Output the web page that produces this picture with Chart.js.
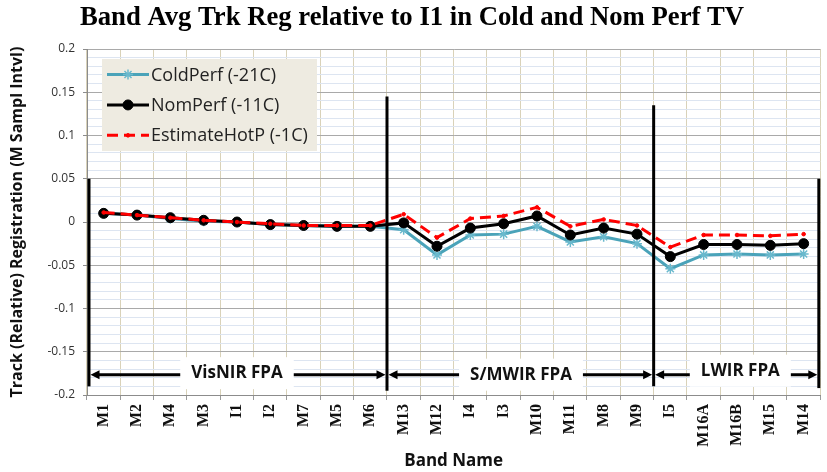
<!DOCTYPE html>
<html>
<head>
<meta charset="utf-8">
<title>Band Avg Trk Reg</title>
<script src="https://cdn.jsdelivr.net/npm/chart.js@4.4.1/dist/chart.umd.min.js"></script>
<style>
  html, body { margin: 0; padding: 0; background: #ffffff; }
  canvas { display: block; }
</style>
</head>
<body>
<canvas id="regChart" width="827" height="472"></canvas>
<script>
// band order along the track, grouped by focal plane
const bands = ['M1', 'M2', 'M4', 'M3', 'I1', 'I2', 'M7', 'M5', 'M6',
               'M13', 'M12', 'I4', 'I3', 'M10', 'M11', 'M8', 'M9',
               'I5', 'M16A', 'M16B', 'M15', 'M14'];

// registration relative to I1 (M sample interval)
const coldPerf = [0.010, 0.008, 0.004, 0.001, 0.000, -0.003, -0.004, -0.005, -0.005,
                  -0.009, -0.038, -0.015, -0.014, -0.005, -0.023, -0.017, -0.025,
                  -0.054, -0.038, -0.037, -0.038, -0.037];
const nomPerf = [0.010, 0.008, 0.005, 0.002, 0.000, -0.003, -0.004, -0.005, -0.005,
                 -0.001, -0.028, -0.007, -0.002, 0.007, -0.015, -0.007, -0.014,
                 -0.040, -0.026, -0.026, -0.027, -0.025];
const estHotP = [0.011, 0.008, 0.005, 0.002, 0.000, -0.002, -0.004, -0.004, -0.004,
                 0.009, -0.018, 0.004, 0.007, 0.017, -0.005, 0.003, -0.004,
                 -0.029, -0.015, -0.015, -0.016, -0.014];

const seriesLabels = ['ColdPerf (-21C)', 'NomPerf (-11C)', 'EstimateHotP (-1C)'];

// focal plane groups: name, first band, last band
const fpaNames = ['VisNIR FPA', 'S/MWIR FPA', 'LWIR FPA'];
const fpaFirst = ['M1', 'M13', 'I5'];
const fpaLast = ['M6', 'M9', 'M14'];

const isMajor = v => Math.abs(Math.round(v * 100)) % 5 === 0;
const fmtTick = v => String(Number(v.toFixed(2)));

// legend box drawn inside the plot, like the spreadsheet original
const boxLegend = {
    id: 'boxLegend',
    afterDatasetsDraw(chart) {
        const ctx = chart.ctx;
        const area = chart.chartArea;
        const x0 = area.left + 15, y0 = area.top + 10;
        ctx.save();
        ctx.fillStyle = '#eeebe1';
        ctx.fillRect(x0, y0, 215, 92);
        chart.data.datasets.forEach((ds, i) => {
            const cy = y0 + 15.5 + i * 30.4;
            ctx.strokeStyle = ds.borderColor;
            ctx.lineWidth = ds.borderWidth;
            ctx.setLineDash(ds.borderDash || []);
            ctx.beginPath();
            ctx.moveTo(x0 + 5, cy);
            ctx.lineTo(x0 + 47, cy);
            ctx.stroke();
            ctx.setLineDash([]);
            ctx.fillStyle = ds.pointBackgroundColor;
            ctx.strokeStyle = ds.pointBorderColor;
            ctx.lineWidth = ds.pointBorderWidth;
            Chart.helpers.drawPoint(ctx, {
                pointStyle: ds.pointStyle, rotation: 0,
                radius: ds.pointRadius, borderWidth: ds.pointBorderWidth
            }, x0 + 26, cy);
            ctx.fillStyle = '#222222';
            ctx.font = '18px "Open Sans"';
            ctx.textBaseline = 'middle';
            ctx.textAlign = 'left';
            ctx.fillText(ds.label, x0 + 49, cy + 1);
        });
        ctx.restore();
    }
};

// thick FPA dividers, double arrows and group names
const fpaMarks = {
    id: 'fpaMarks',
    afterDatasetsDraw(chart) {
        const ctx = chart.ctx;
        const xs = chart.scales.x, ys = chart.scales.y;
        const edgeX = i => xs.getPixelForValue(i);
        const bounds = [bands.indexOf(fpaFirst[0]) - 0.5]
            .concat(fpaLast.map(b => bands.indexOf(b) + 0.5));
        const tops = [0.05, 0.145, 0.135, 0.05];
        const bottoms = [-0.19, -0.195, -0.19, -0.192];
        ctx.save();
        ctx.strokeStyle = '#000000';
        ctx.fillStyle = '#000000';
        ctx.lineWidth = 3;
        bounds.forEach((b, i) => {
            const x = edgeX(b) + (i === 0 ? 2 : (i === bounds.length - 1 ? -1.5 : 0));
            ctx.beginPath();
            ctx.moveTo(x, ys.getPixelForValue(tops[i]));
            ctx.lineTo(x, ys.getPixelForValue(bottoms[i]));
            ctx.stroke();
        });
        const arrowY = ys.getPixelForValue(-0.1765);
        const head = (x, dir) => {
            ctx.beginPath();
            ctx.moveTo(x, arrowY);
            ctx.lineTo(x - dir * 9, arrowY - 4.5);
            ctx.lineTo(x - dir * 9, arrowY + 4.5);
            ctx.closePath();
            ctx.fill();
        };
        const labelCenter = [4.0, 12.52, 19.1];
        const labelDy = [-1.5, 0, -4];
        fpaNames.forEach((name, i) => {
            const xl = edgeX(bounds[i]) + (i === 0 ? 3.5 : 1.5);
            const xr = edgeX(bounds[i + 1]) - (i === fpaNames.length - 1 ? 3 : 1.5);
            ctx.lineWidth = 3;
            ctx.beginPath();
            ctx.moveTo(xl + 6, arrowY);
            ctx.lineTo(xr - 6, arrowY);
            ctx.stroke();
            head(xl, -1);
            head(xr, 1);
            ctx.font = 'bold 17px "Open Sans"';
            const tw = ctx.measureText(name).width;
            const cx = xs.getPixelForValue(labelCenter[i]);
            const cy = arrowY + labelDy[i];
            ctx.fillStyle = '#ffffff';
            ctx.fillRect(cx - tw / 2 - 11, cy - 16, tw + 22, 32);
            ctx.fillStyle = '#111111';
            ctx.textAlign = 'center';
            ctx.textBaseline = 'middle';
            ctx.fillText(name, cx, cy);
            ctx.fillStyle = '#000000';
        });
        ctx.restore();
    }
};

new Chart(document.getElementById('regChart'), {
    type: 'line',
    data: {
        labels: bands,
        datasets: [
            {
                label: seriesLabels[0],
                data: coldPerf,
                borderColor: '#4aa3b9',
                borderWidth: 3,
                pointStyle: 'star',
                pointRadius: 5,
                pointBorderWidth: 1.5,
                pointBorderColor: '#6ab9cd',
                pointBackgroundColor: '#6ab9cd',
                order: 3
            },
            {
                label: seriesLabels[1],
                data: nomPerf,
                borderColor: '#000000',
                borderWidth: 3,
                pointStyle: 'circle',
                pointRadius: 5,
                pointBorderWidth: 1,
                pointBorderColor: '#000000',
                pointBackgroundColor: '#000000',
                order: 2
            },
            {
                label: seriesLabels[2],
                data: estHotP,
                borderColor: '#ff0000',
                borderWidth: 3,
                borderDash: [11, 6],
                pointStyle: 'circle',
                pointRadius: 1.8,
                pointBorderWidth: 1,
                pointBorderColor: '#ff0000',
                pointBackgroundColor: '#ff0000',
                order: 1
            }
        ]
    },
    options: {
        responsive: false,
        animation: false,
        layout: { padding: { left: 0, right: 3, top: 0, bottom: 0 } },
        plugins: {
            legend: { display: false },
            tooltip: { enabled: false },
            title: {
                display: true,
                text: 'Band Avg Trk Reg relative to I1 in Cold and Nom Perf TV',
                font: { family: '"Liberation Serif", serif', size: 26.7, weight: 'bold' },
                color: '#000000',
                padding: { top: 2, bottom: 15 }
            }
        },
        scales: {
            x: {
                offset: true,
                border: { color: '#8c8c8c', width: 1 },
                grid: { offset: true, color: '#d9d2b9', tickColor: '#9a9a9a', tickLength: 5 },
                ticks: {
                    autoSkip: false, minRotation: 90, maxRotation: 90, padding: 4,
                    font: { family: '"Liberation Serif", serif', size: 16, weight: 'bold' },
                    color: '#111111'
                },
                title: {
                    display: true, text: 'Band Name', color: '#111111',
                    font: { family: '"Open Sans"', size: 17, weight: 'bold' },
                    padding: { top: 0, bottom: 1 }
                },
                afterFit: s => { s.height = 77; }
            },
            y: {
                min: -0.2, max: 0.2,
                border: { color: '#8c8c8c', width: 1 },
                grid: {
                    color: c => isMajor(c.tick.value) ? '#a9a9a9' : '#dde5f1',
                    tickColor: c => isMajor(c.tick.value) ? '#8c8c8c' : 'rgba(0,0,0,0)',
                    tickLength: 4
                },
                ticks: {
                    stepSize: 0.01, autoSkip: false, padding: 8,
                    callback: v => isMajor(v) ? fmtTick(v) : '',
                    font: { family: '"Open Sans"', size: 12 },
                    color: '#333333'
                },
                title: {
                    display: true, text: 'Track (Relative) Registration (M Sampl Intvl)',
                    color: '#111111',
                    font: { family: '"Open Sans"', size: 16, weight: 'bold' },
                    padding: { top: 8, bottom: 0 }
                },
                afterFit: s => { s.width = 87; }
            }
        }
    },
    plugins: [boxLegend, fpaMarks]
});
</script>
</body>
</html>
